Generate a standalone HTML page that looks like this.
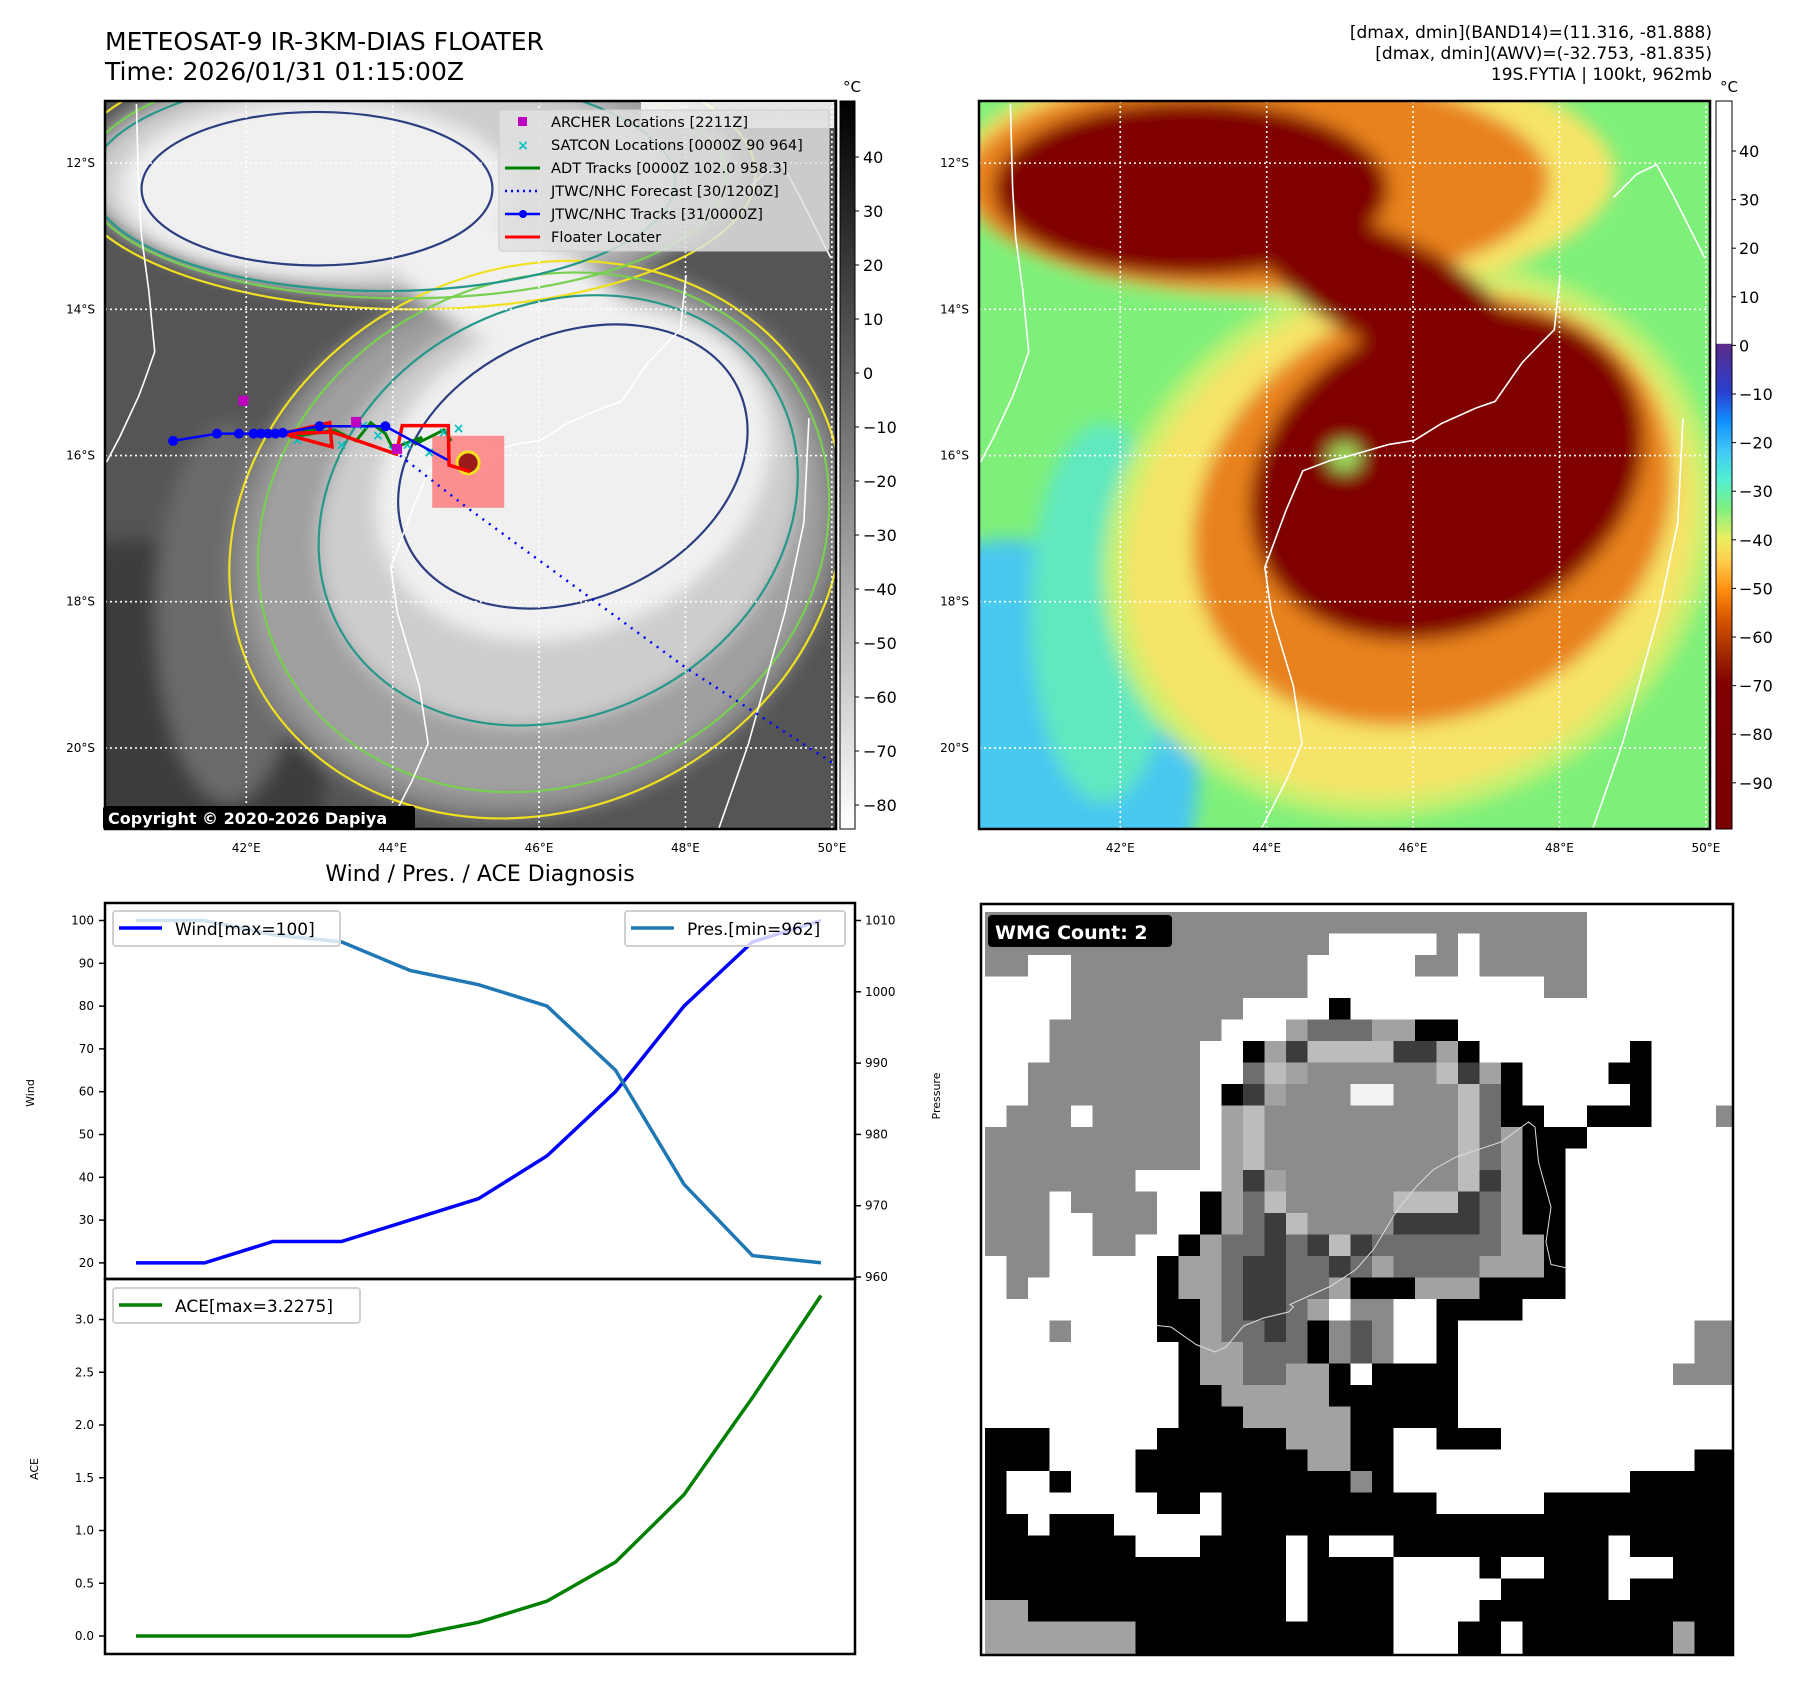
<!DOCTYPE html>
<html><head><meta charset="utf-8"><style>
html,body{margin:0;padding:0;background:#fff;}
svg{display:block;font-family:"DejaVu Sans","Liberation Sans",sans-serif;}
</style></head><body>
<svg id="fig" width="1797" height="1690" viewBox="0 0 1797 1690" xmlns="http://www.w3.org/2000/svg">
<defs>
 <filter id="blur1" x="-20%" y="-20%" width="140%" height="140%"><feGaussianBlur stdDeviation="12"/></filter>
 <clipPath id="clip1"><rect x="105" y="101" width="731" height="728"/></clipPath>
 <clipPath id="clip2"><rect x="979" y="101" width="731" height="728"/></clipPath>
 <clipPath id="clip4"><rect x="981" y="904" width="752" height="751"/></clipPath>
 <linearGradient id="cbGray" x1="0" y1="0" x2="0" y2="1">
  <stop offset="0" stop-color="#000"/><stop offset="1" stop-color="#fff"/>
 </linearGradient>
 <linearGradient id="cbColor" x1="0" y1="0" x2="0" y2="1">
  <stop offset="0" stop-color="#fff"/><stop offset="0.333" stop-color="#fff"/>
  <stop offset="0.334" stop-color="#5a2a88"/>
  <stop offset="0.40" stop-color="#2a40d0"/>
  <stop offset="0.44" stop-color="#1090ff"/>
  <stop offset="0.48" stop-color="#40c8f8"/>
  <stop offset="0.52" stop-color="#50f0d0"/>
  <stop offset="0.56" stop-color="#80f080"/>
  <stop offset="0.60" stop-color="#e8f060"/>
  <stop offset="0.63" stop-color="#ffd050"/>
  <stop offset="0.67" stop-color="#ff9010"/>
  <stop offset="0.71" stop-color="#d85800"/>
  <stop offset="0.76" stop-color="#a02800"/>
  <stop offset="0.80" stop-color="#800000"/>
  <stop offset="1" stop-color="#780000"/>
 </linearGradient>
</defs>

<text x="105" y="50" font-size="25" fill="#000">METEOSAT-9 IR-3KM-DIAS FLOATER</text>
<text x="105" y="80" font-size="25" fill="#000">Time: 2026/01/31 01:15:00Z</text>
<g font-size="17" text-anchor="end" fill="#000">
 <text x="1712" y="38">[dmax, dmin](BAND14)=(11.316, -81.888)</text>
 <text x="1712" y="59">[dmax, dmin](AWV)=(-32.753, -81.835)</text>
 <text x="1712" y="80">19S.FYTIA | 100kt, 962mb</text>
</g>

<g id="map1"></g>
<g id="map2"></g>

<rect x="840" y="101" width="15" height="728" fill="url(#cbGray)" stroke="#000" stroke-width="1"/>
<text x="852" y="92" font-size="15" text-anchor="middle">°C</text>
<g id="cb1ticks"></g>
<rect x="1716" y="101" width="16" height="728" fill="url(#cbColor)" stroke="#000" stroke-width="1"/>
<text x="1729" y="92" font-size="15" text-anchor="middle">°C</text>
<g id="cb2ticks"></g>

<text x="480" y="881" font-size="22" text-anchor="middle">Wind / Pres. / ACE Diagnosis</text>
<g id="chart"></g>

<g id="grid4"></g>
</svg>
<script>
const NS='http://www.w3.org/2000/svg';
function mk(tag,attrs,parent){const e=document.createElementNS(NS,tag);for(const k in attrs)e.setAttribute(k,attrs[k]);if(parent)parent.appendChild(e);return e;}

/* ---------- chart data ---------- */
const timeIndex=[0,1,2,3,4,5,6,7,8,9,10];
const windValues=[20,20,25,25,30,35,45,60,80,95,100];
const presValues=[1010,1010,1008,1007,1003,1001,998,989,973,963,962];
const aceValues=[0,0,0,0,0,0.13,0.33,0.70,1.34,2.26,3.2275];
const windTicks=[20,30,40,50,60,70,80,90,100];
const presTicks=[960,970,980,990,1000,1010];
const aceTicks=[0.0,0.5,1.0,1.5,2.0,2.5,3.0];

/* map track data (lon E, lat S) */
const jtwcLon=[41.0,41.6,41.9,42.1,42.2,42.3,42.4,42.5,43.0,43.9,44.75];
const jtwcLat=[15.8,15.7,15.7,15.7,15.7,15.7,15.7,15.69,15.6,15.6,16.06];
const fcstLon=[44.1,45.0,46.5,48.0,50.0];
const fcstLat=[16.0,16.7,17.8,18.9,20.2];
const floaterLon=[42.49,43.14,43.17,42.5,43.18,44.05,44.13,44.76,44.77,45.06];
const floaterLat=[15.70,15.55,15.88,15.70,15.68,15.98,15.59,15.59,16.13,16.22];
const archerLon=[41.96,43.5,44.06];
const archerLat=[15.25,15.54,15.91];
const adtLon=[42.5,43.1,42.6,43.2,43.5,43.7,43.9,44.0,44.4,44.3,44.7,44.8];
const adtLat=[15.72,15.6,15.75,15.65,15.8,15.55,15.7,15.9,15.75,15.85,15.65,15.8];
const satconLon=[42.7,43.0,43.3,43.6,43.8,44.0,44.2,44.5,44.7,44.9];
const satconLat=[15.78,15.62,15.85,15.58,15.72,15.92,15.85,15.95,15.68,15.62];
const latTicks=[12,14,16,18,20];
const lonTicks=[42,44,46,48,50];
const cb1Ticks=[40,30,20,10,0,-10,-20,-30,-40,-50,-60,-70,-80];
const cb2Ticks=[40,30,20,10,0,-10,-20,-30,-40,-50,-60,-70,-80,-90];

/* ---------- maps ---------- */
function lonX(x0,lon){return x0+(lon-40.07)*73.2;}
function latY(lat){return 101+(lat-11.15)*73.1;}
const coastA=[[43,4],[46,120],[50,185],[60,260],[68,343],[55,380],[46,404],[20,460],[2,494]];
const coastB=[[384,1000],[420,930],[442,879],[430,800],[400,700],[391,638],[420,560],[443,506],[480,492],[501,487],[560,470],[596,464],[633,441],[680,420],[706,411],[743,358],[770,330],[787,313],[795,238]];
const coastC=[[838,1000],[880,880],[930,700],[956,577],[963,434]];
const coastD=[[868,132],[900,100],[927,87],[950,130],[993,215]];
function drawMap(id,x0,gray){
 const root=document.getElementById(id);
 const clip=gray?'url(#clip1)':'url(#clip2)';
 const g=mk('g',{'clip-path':clip},root);
 const C=gray?{bg:'#555555',bl:'#3e3e3e',o:'#a0a0a0',m:'#cdcdcd',c:'#f0f0f0',strip:'#6a6a6a',y:'#8a8a8a'}:
              {bg:'#7ef07a',bl:'#48c8f0',o:'#f6e468',m:'#e8821c',c:'#800000',strip:'#60e8c0',y:'#c8f070'};
 mk('rect',{x:x0,y:101,width:731,height:728,fill:C.bg},g);
 const s=mk('g',{transform:`translate(${x0},101) scale(0.731)`,filter:'url(#blur1)'},g);
 mk('ellipse',{cx:40,cy:920,rx:260,ry:320,fill:C.bl},s);
 mk('ellipse',{cx:170,cy:700,rx:100,ry:260,fill:C.strip},s);
 mk('ellipse',{cx:590,cy:600,rx:430,ry:370,fill:C.y,transform:'rotate(-25 590 600)'},s);
 mk('ellipse',{cx:590,cy:600,rx:400,ry:340,fill:C.o,transform:'rotate(-25 590 600)'},s);
 mk('ellipse',{cx:420,cy:100,rx:450,ry:170,fill:C.o},s);
 mk('ellipse',{cx:620,cy:560,rx:340,ry:280,fill:C.m,transform:'rotate(-28 620 560)'},s);
 mk('ellipse',{cx:380,cy:110,rx:400,ry:150,fill:C.m},s);
 mk('ellipse',{cx:640,cy:510,rx:280,ry:215,fill:C.c,transform:'rotate(-25 640 510)'},s);
 mk('ellipse',{cx:290,cy:120,rx:270,ry:120,fill:C.c},s);
 mk('ellipse',{cx:560,cy:260,rx:190,ry:75,fill:C.c,transform:'rotate(25 560 260)'},s);
 mk('ellipse',{cx:500,cy:487,rx:22,ry:20,fill:gray?'#f8f8f8':'#a0e060'},s);
 const n=mk('g',{transform:`translate(${x0},101) scale(0.731)`,fill:'none'},g);
 if(gray){
  [['#f0e020',[590,600,430,370,-25],[420,100,470,185,0]],['#78d050',[600,590,400,345,-25],[410,105,440,165,0]],
   ['#26988a',[620,560,340,280,-28],[380,110,400,150,0]],['#2c3e80',[640,500,250,180,-25],[290,120,240,105,0]]].forEach(a=>{
   a.slice(1).forEach(e=>mk('ellipse',{cx:e[0],cy:e[1],rx:e[2],ry:e[3],transform:`rotate(${e[4]} ${e[0]} ${e[1]})`,stroke:a[0],'stroke-width':3},n));
  });
 }
 [coastA,coastB,coastC,coastD].forEach(c=>mk('polyline',{points:c.map(p=>p.join(',')).join(' '),stroke:'#fff','stroke-width':2.2,fill:'none'},n));
 lonTicks.forEach(l=>{const x=lonX(x0,l);mk('line',{x1:x,y1:101,x2:x,y2:829,stroke:'#fff','stroke-width':1.6,'stroke-dasharray':'2,3'},g);});
 latTicks.forEach(l=>{const y=latY(l);mk('line',{x1:x0,y1:y,x2:x0+731,y2:y,stroke:'#fff','stroke-width':1.6,'stroke-dasharray':'2,3'},g);});
 mk('rect',{x:x0,y:101,width:731,height:728,fill:'none',stroke:'#000','stroke-width':2.5},root);
 lonTicks.forEach(l=>{const t=mk('text',{x:lonX(x0,l),y:852,'font-size':12,'text-anchor':'middle'},root);t.textContent=l+'°E';});
 latTicks.forEach(l=>{const t=mk('text',{x:x0-10,y:latY(l)+4,'font-size':12,'text-anchor':'end'},root);t.textContent=l+'°S';});
}
drawMap('map1',105,true);
drawMap('map2',979,false);

(function(){
 const root=document.getElementById('map1');
 const g=mk('g',{'clip-path':'url(#clip1)'},root);
 const P=(lo,la)=>lo.map((v,i)=>lonX(105,v)+','+latY(la[i])).join(' ');
 const sq=mk('rect',{x:lonX(105,44.54),y:latY(15.73),width:72,height:72,fill:'rgba(255,110,110,0.75)'},g);
 
 
 mk('circle',{cx:lonX(105,45.03),cy:latY(16.1),r:11,fill:'#9a1a1a',stroke:'#f0e020','stroke-width':3},g);
 const adt=mk('polyline',{points:P(adtLon,adtLat),fill:'none',stroke:'#008000','stroke-width':3},g);
 
 
 satconLon.forEach((v,i)=>{const t=mk('text',{x:lonX(105,v),y:latY(satconLat[i])+5,'font-size':14,'text-anchor':'middle',fill:'#00c0c0','font-weight':'bold'},g);t.textContent='×';});
 const fc=mk('polyline',{points:P(fcstLon,fcstLat),fill:'none',stroke:'#0000ff','stroke-width':2.5,'stroke-dasharray':'2,6'},g);
 
 
 const fl=mk('polyline',{points:P(floaterLon,floaterLat),fill:'none',stroke:'#ff0000','stroke-width':3.5},g);
 
 
 const jt=mk('polyline',{points:P(jtwcLon,jtwcLat),fill:'none',stroke:'#0000ff','stroke-width':2.5},g);
 
 
 jtwcLon.slice(0,10).forEach((v,i)=>mk('circle',{cx:lonX(105,v),cy:latY(jtwcLat[i]),r:5,fill:'#0000ff'},g));
 archerLon.forEach((v,i)=>mk('rect',{x:lonX(105,v)-5,y:latY(archerLat[i])-5,width:10,height:10,fill:'#c000c0'},g));
 mk('rect',{x:641,y:102,width:193,height:26,fill:'rgba(255,255,255,0.85)'},g);
 const w=mk('text',{x:828,y:121,'font-size':16,'font-weight':'bold','text-anchor':'end',fill:'#ddd'},g);w.textContent='© EUMETSAT 2026';
 const lg=mk('g',{},root);
 
 
 mk('rect',{x:499,y:110,width:330,height:141,fill:'rgba(225,225,225,0.85)',stroke:'#ccc',rx:3},lg);
 const items=['ARCHER Locations [2211Z]','SATCON Locations [0000Z 90 964]','ADT Tracks [0000Z 102.0 958.3]','JTWC/NHC Forecast [30/1200Z]','JTWC/NHC Tracks [31/0000Z]','Floater Locater'];
 items.forEach((s,i)=>{const y=122+i*23;const t=mk('text',{x:551,y:y+5,'font-size':14.6},lg);t.textContent=s;
  if(i==0)mk('rect',{x:518,y:y-5,width:9,height:9,fill:'#c000c0'},lg);
  if(i==1){const c=mk('text',{x:523,y:y+5,'font-size':14,'text-anchor':'middle',fill:'#00c0c0','font-weight':'bold'},lg);c.textContent='×';}
  if(i==2)mk('line',{x1:505,x2:540,y1:y,y2:y,stroke:'#008000','stroke-width':3},lg);
  if(i==3)mk('line',{x1:505,x2:540,y1:y,y2:y,stroke:'#0000ff','stroke-width':2.5,'stroke-dasharray':'2,4'},lg);
  if(i==4){mk('line',{x1:505,x2:540,y1:y,y2:y,stroke:'#0000ff','stroke-width':2.5},lg);mk('circle',{cx:523,cy:y,r:4,fill:'#0000ff'},lg);}
  if(i==5)mk('line',{x1:505,x2:540,y1:y,y2:y,stroke:'#ff0000','stroke-width':3},lg);
 });
 const cr=mk('g',{},root);
 
 
 mk('rect',{x:103,y:806,width:312,height:24,fill:'#000',rx:3},cr);
 const ct=mk('text',{x:108,y:824,'font-size':16,'font-weight':'bold',fill:'#fff'},cr);ct.textContent='Copyright © 2020-2026 Dapiya';
})();

(function(){
 const g1=document.getElementById('cb1ticks');
 cb1Ticks.forEach(v=>{const y=157+(40-v)*5.40;mk('line',{x1:855,x2:859,y1:y,y2:y,stroke:'#000'},g1);const t=mk('text',{x:863,y:y+6,'font-size':16},g1);t.textContent=v<0?'\u2212'+(-v):String(v);});
 const g2=document.getElementById('cb2ticks');
 cb2Ticks.forEach(v=>{const y=151+(40-v)*4.86;mk('line',{x1:1732,x2:1736,y1:y,y2:y,stroke:'#000'},g2);const t=mk('text',{x:1739,y:y+6,'font-size':16},g2);t.textContent=v<0?'\u2212'+(-v):String(v);});
})();

(function(){
 const g=document.getElementById('chart');
 const L=105,R=855,T=903,M=1279,B=1654;
 const xS=i=>136+i*68.5;
 const wY=v=>920.5+(100-v)*4.28;
 const pY=v=>920.5+(1010-v)*7.13;
 const aY=v=>1636-v*105.5;
 mk('rect',{x:L,y:T,width:R-L,height:M-T,fill:'#fff'},g);
 mk('rect',{x:L,y:M,width:R-L,height:B-M,fill:'#fff'},g);
 windTicks.forEach(v=>{const y=wY(v);mk('line',{x1:L-6,x2:L,y1:y,y2:y,stroke:'#000','stroke-width':1.5},g);const t=mk('text',{x:L-11,y:y+4,'font-size':12,'text-anchor':'end'},g);t.textContent=v;});
 presTicks.forEach(v=>{const y=pY(v);mk('line',{x1:R,x2:R+6,y1:y,y2:y,stroke:'#000','stroke-width':1.5},g);const t=mk('text',{x:R+10,y:y+4,'font-size':12},g);t.textContent=v;});
 aceTicks.forEach(v=>{const y=aY(v);mk('line',{x1:L-6,x2:L,y1:y,y2:y,stroke:'#000','stroke-width':1.5},g);const t=mk('text',{x:L-11,y:y+4,'font-size':12,'text-anchor':'end'},g);t.textContent=v.toFixed(1);});
 const yl=mk('text',{x:34,y:1093,'font-size':11,'text-anchor':'middle',transform:'rotate(-90 34 1093)'},g);yl.textContent='Wind';
 const al=mk('text',{x:38,y:1469,'font-size':11,'text-anchor':'middle',transform:'rotate(-90 38 1469)'},g);al.textContent='ACE';
 const pl=mk('text',{x:940,y:1096,'font-size':11,'text-anchor':'middle',transform:'rotate(-90 940 1096)'},g);pl.textContent='Pressure';
 const wl=mk('polyline',{points:windValues.map((v,i)=>xS(timeIndex[i])+','+wY(v)).join(' '),fill:'none',stroke:'#0000ff','stroke-width':3.5},g);
 
 
 const pline=mk('polyline',{points:presValues.map((v,i)=>xS(timeIndex[i])+','+pY(v)).join(' '),fill:'none',stroke:'#1f77b4','stroke-width':3.5},g);
 
 
 const acel=mk('polyline',{points:aceValues.map((v,i)=>xS(timeIndex[i])+','+aY(v)).join(' '),fill:'none',stroke:'#008000','stroke-width':3.5},g);
 
 
 function legend(x,y,w,color,label,name){
  const lg=mk('g',{},g);
  
  
  mk('rect',{x:x,y:y,width:w,height:35,fill:'rgba(255,255,255,0.8)',stroke:'#d0d0d0','stroke-width':2,rx:3},lg);
  mk('line',{x1:x+6,x2:x+49,y1:y+17,y2:y+17,stroke:color,'stroke-width':3.5},lg);
  const t=mk('text',{x:x+62,y:y+24,'font-size':17},lg);t.textContent=label;
 }
 legend(113,911,227,'#0000ff','Wind[max=100]','wind-legend');
 legend(625,911,220,'#1f77b4','Pres.[min=962]','pressure-legend');
 legend(113,1288,247,'#008000','ACE[max=3.2275]','ace-legend');
 mk('rect',{x:L,y:T,width:R-L,height:M-T,fill:'none',stroke:'#000','stroke-width':2.5},g);
 mk('rect',{x:L,y:M,width:R-L,height:B-M,fill:'none',stroke:'#000','stroke-width':2.5},g);
})();

const gridRows=["G28W7","G16W5G1W1G5W7","G2W2G11W5G2W1G5W7","W4G11W11G2W7","W4G8W4K1W18","W3G8W3L1M3L2K2W13",
"W3G7W2K1L1D1B4D2L1K1W7K1W4","W2G8W2M1B1L1m6B1D1L1K1W4K2W4","W2G8W1K1D1L1m3E2m3B1M1K1W5K1W4","W1G3W1G5W1L1B1m9B1M1K2W2K3W3G1",
"G10W1L1B1m9B1M1L1K3W7","G10W1L1B1m9B1M1L1K2W8","G7W4L1D1L1m8B1D1L1K2W8","G3W1G4W2K1L1M1B1m5B3D1M1L1K2W8",
"G3W2G3W2K1L1M1D1B1m4D4M1L1K2W8","G3W2G2W2K1L1M2D1M1D1B1D1M6L2K1W8","W1G2W5K1L2M1D2M2D1M1L1M4L3K1W8","W1G1W6K1L2M1D2M2L1K3L3K4W8",
"W8K2L1M1D2M1L1W1G2W2K4W10","W3G1W4K2L1M2D1M1K1G1S1G1W2K1W11G2","W9K1L2M3K1G1S1G1W2K1W11G2","W9K1L2M2L2K1W1K4W10G3",
"W9K2L5K6W13","W9K3L5K5W13","K3W5K6L3K2W2K3W11","K3W4K8L2K2W14K2","K1W2K1W3K10G1K1W11K5","K1W7K2W1K10W5K9",
"K2W1K3W5K24","K7W3K4W1K1W3K10W1K5","K14W1K4W4K1W2K3W3K3","K14W1K4W5K5W1K5","L2K12W1K4W4K12","L7K12W3K2W1K7L1K2","L7K12W3K2W1K7L1K2"];
const shade={W:'#ffffff',G:'#8a8a8a',L:'#a2a2a2',K:'#000000',D:'#3c3c3c',M:'#6e6e6e',B:'#bcbcbc',m:'#8c8c8c',E:'#f2f2f2',S:'#555555'};
(function(){
 const root=document.getElementById('grid4');
 const g=mk('g',{'clip-path':'url(#clip4)'},root);
 mk('rect',{x:981,y:904,width:752,height:751,fill:'#fff'},g);
 const cs=21.5,x0=985,y0=912;
 gridRows.forEach((row,r)=>{let c=0;const re=/([A-Za-z])(\d+)/g;let m;
  while((m=re.exec(row))){const n=+m[2];mk('rect',{x:x0+c*cs,y:y0+r*cs,width:n*cs+0.5,height:cs+0.5,fill:shade[m[1]]},g);c+=n;}});
 const coast=[[362,857],[390,860],[440,895],[478,910],[500,900],[535,858],[575,842],[625,830],[635,820],[628,815],[710,778],[760,745],[795,705],[840,630],[880,580],[915,545],[960,520],[1050,490],[1105,450],[1118,460],[1125,530],[1150,620],[1140,690],[1150,735],[1182,742]];
 mk('polyline',{points:coast.map(p=>(976+p[0]/2)+','+(897+p[1]/2)).join(' '),fill:'none',stroke:'#ddd','stroke-width':1},g);
 mk('rect',{x:981,y:904,width:752,height:751,fill:'none',stroke:'#000','stroke-width':2.5},root);
 const lb=mk('g',{},root);
 
 
 mk('rect',{x:988,y:915,width:184,height:32,fill:'#000',rx:4},lb);
 const t=mk('text',{x:995,y:939,'font-size':19,'font-weight':'bold',fill:'#fff'},lb);t.textContent='WMG Count: 2';
})();
</script>
</body></html>
